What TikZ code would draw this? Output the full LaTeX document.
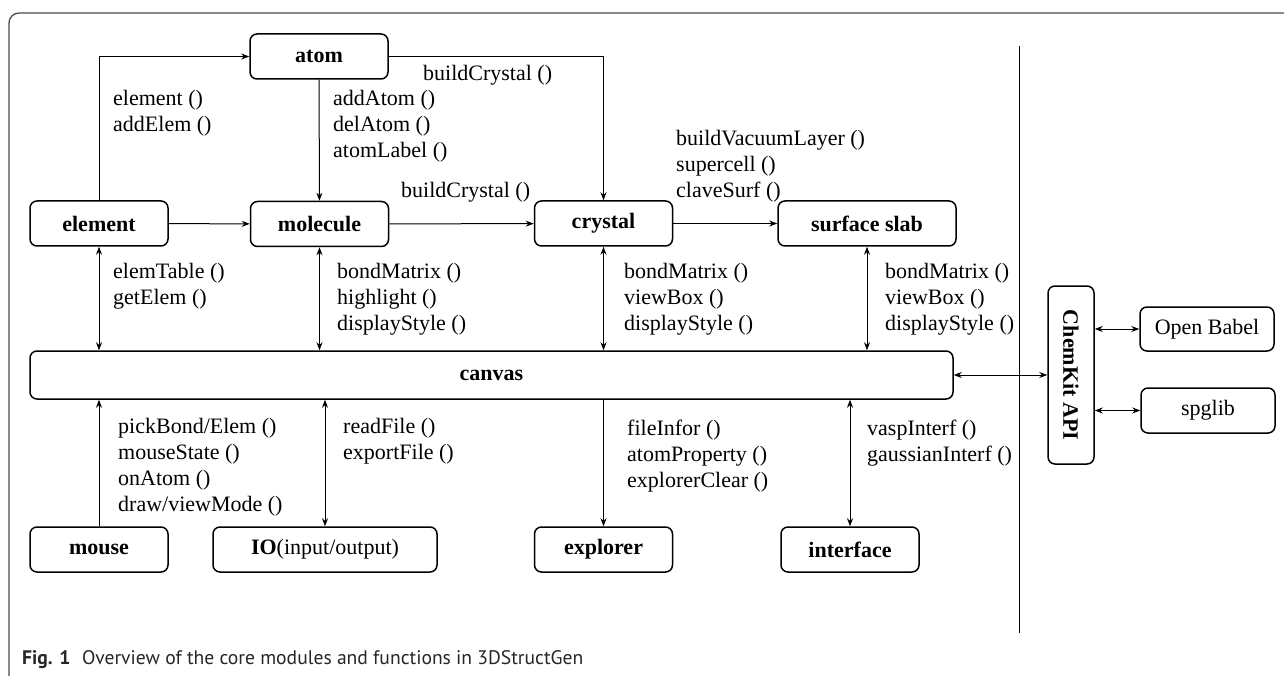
\documentclass[tikz,border=0pt]{standalone}
\usepackage{fontspec}
\setmainfont{Liberation Serif}
\newfontfamily\capfont{PT Sans}
\usetikzlibrary{arrows.meta}

\begin{document}
\begin{tikzpicture}[x=1pt,y=-1pt,
    box/.style={draw,line width=1.5pt,rounded corners=7pt,minimum width=138pt,minimum height=45pt,
        inner sep=2pt,font=\fontsize{22}{26}\selectfont\bfseries},
    libbox/.style={box,minimum width=134pt,font=\fontsize{22}{26}\selectfont},
    fn/.style={anchor=west,align=left,inner sep=0pt,font=\fontsize{22}{26}\selectfont},
    arr/.style={line width=1pt,-{Stealth[length=8pt,width=6pt]}},
    darr/.style={line width=1pt,{Stealth[length=8pt,width=6pt]}-{Stealth[length=8pt,width=6pt]}}]
    \useasboundingbox (0,0) rectangle (1284,676);
    % frame and separator
    \draw[black!70,line width=1.3pt,rounded corners=10pt] (9,676) |- (1284,13);
    \draw[line width=1pt] (1019,46) -- (1019,633);
    % modules
    \node[box] (atom) at (319,56.5) {atom};
    \node[box] (elem) at (99,223.5) {element};
    \node[box] (mol) at (319.5,224) {molecule};
    \node[box] (cryst) at (603.5,223.5) {crystal};
    \node[box,minimum width=178pt] (slab) at (867,223.5) {surface slab};
    \node[box,minimum width=923pt,minimum height=48pt] (canvas) at (491.5,375) {canvas};
    \node[box] (mouse) at (99,549.5) {mouse};
    \node[box,minimum width=224pt] (io) at (325,549.5) {IO\mdseries(input/output)};
    \node[box] (explorer) at (603.5,549.5) {explorer};
    \node[box] (iface) at (850,549.5) {interface};
    \node[box,minimum width=46pt,minimum height=178pt] (api) at (1071,375) {\rotatebox{-90}{ChemKit API}};
    \node[libbox,minimum height=44pt] (babel) at (1207,329) {Open Babel};
    \node[libbox] (spg) at (1208,410.5) {spglib};
    % connectors
    \draw[arr] (elem.north) |- (atom.west);
    \draw[arr] (atom) -- (mol);
    \draw[arr] (atom.east) -| (cryst.north);
    \draw[arr] (elem) -- (mol);
    \draw[arr] (mol) -- (cryst);
    \draw[arr] (cryst) -- (slab);
    \foreach \m in {elem,mol,cryst,slab}
        \draw[darr] (\m) -- (\m |- canvas.north);
    \draw[arr] (mouse) -- (mouse |- canvas.south);
    \draw[darr] (io) -- (io |- canvas.south);
    \draw[arr] (explorer |- canvas.south) -- (explorer);
    \draw[darr] (iface) -- (iface |- canvas.south);
    \draw[darr] (canvas) -- (api);
    \draw[darr] (api.east |- babel) -- (babel);
    \draw[darr] (api.east |- spg) -- (spg);
    % function labels
    \node[fn] (fElem) at (113,113) {element ()\\addElem ()};
    \node[fn] (fAtom) at (333,126) {addAtom ()\\delAtom ()\\atomLabel ()};
    \node[fn] (fBuildA) at (423,75) {buildCrystal ()};
    \node[fn] (fBuildM) at (401,192) {buildCrystal ()};
    \node[fn] (fSlab) at (676,166) {buildVacuumLayer ()\\supercell ()\\claveSurf ()};
    \node[fn] (fElemCv) at (113,286) {elemTable ()\\getElem ()};
    \node[fn] (fMolCv) at (337,299) {bondMatrix ()\\highlight ()\\displayStyle ()};
    \node[fn] (fCrystCv) at (624,299) {bondMatrix ()\\viewBox ()\\displayStyle ()};
    \node[fn] (fSlabCv) at (885,299) {bondMatrix ()\\viewBox ()\\displayStyle ()};
    \node[fn] (fMouse) at (118,467) {pickBond/Elem ()\\mouseState ()\\onAtom ()\\draw/viewMode ()};
    \node[fn] (fIO) at (343,441) {readFile ()\\exportFile ()};
    \node[fn] (fExpl) at (627,456) {fileInfor ()\\atomProperty ()\\explorerClear ()};
    \node[fn] (fIface) at (867,443) {vaspInterf ()\\gaussianInterf ()};
    % caption
    \node[anchor=west,inner sep=0pt,text=black!85,font=\capfont\fontsize{19.6}{22}\selectfont] (cap) at (22,660)
        {\textbf{Fig. 1}\hspace{0.6em}Overview of the core modules and functions in 3DStructGen};
\end{tikzpicture}
\end{document}
